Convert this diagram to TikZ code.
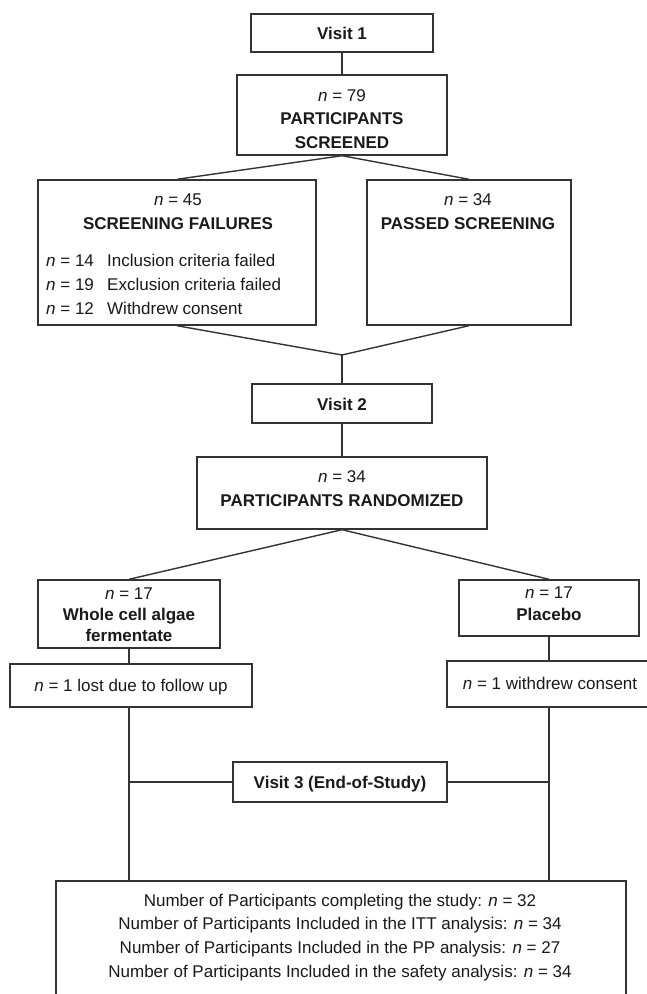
\documentclass[tikz,border=0pt]{standalone}
\usepackage{fontspec}
\setmainfont{Liberation Sans}
\usetikzlibrary{calc}
\definecolor{edge}{HTML}{333333}
\definecolor{ink}{HTML}{1A1A1A}
\tikzset{
  box/.style={draw=edge, line width=1.4bp, fill=white, inner sep=0pt},
  conn/.style={draw=edge, line width=1.4bp},
  lbl/.style={anchor=base, inner sep=0pt, text=ink, font=\fontsize{17bp}{24bp}\selectfont},
  head/.style={lbl, font=\fontsize{17bp}{24bp}\selectfont\bfseries},
  lft/.style={lbl, anchor=base west},
}
\begin{document}
\begin{tikzpicture}[x=1bp, y=-1bp]
\useasboundingbox (0,0) rectangle (647,994);
\clip (0,0) rectangle (647,994);
\fill[white] (0,0) rectangle (647,994);

% boxes
\node[box, minimum width=182bp, minimum height=38bp]  (v1)    at (342,33)     {};
\node[box, minimum width=210bp, minimum height=80bp]  (scr)   at (342,115)    {};
\node[box, minimum width=278bp, minimum height=145bp] (fail)  at (177,252.5)  {};
\node[box, minimum width=204bp, minimum height=145bp] (pass)  at (469,252.5)  {};
\node[box, minimum width=180bp, minimum height=39bp]  (v2)    at (342,403.5)  {};
\node[box, minimum width=290bp, minimum height=72bp]  (rand)  at (342,493)    {};
\node[box, minimum width=182bp, minimum height=68bp]  (whole) at (129,614)    {};
\node[box, minimum width=242bp, minimum height=43bp]  (lost)  at (131,685.5)  {};
\node[box, minimum width=180bp, minimum height=56bp]  (plac)  at (549,608)    {};
\node[box, minimum width=206bp, minimum height=46bp]  (wd)    at (550,684)    {};
\node[box, minimum width=214bp, minimum height=40bp]  (v3)    at (340,782)    {};
\node[box, minimum width=570bp, minimum height=129bp] (fin)   at (341,945.5)  {};

\coordinate (merge) at (342,355);

% connectors
\draw[conn] (v1.south) -- (scr.north);
\draw[conn] (scr.south) -- (fail.north);
\draw[conn] (scr.south) -- (pass.north);
\draw[conn] (fail.south) -- (merge);
\draw[conn] (pass.south) -- (merge);
\draw[conn] (merge) -- (v2.north);
\draw[conn] (v2.south) -- (rand.north);
\draw[conn] (rand.south) -- (whole.north);
\draw[conn] (rand.south) -- (plac.north);
\draw[conn] (whole.south) -- (whole.south |- lost.north);
\draw[conn] (plac.south) -- (plac.south |- wd.north);
\draw[conn] (whole.south |- lost.south) -- (whole.south |- fin.north);
\draw[conn] (plac.south |- wd.south) -- (plac.south |- fin.north);
\draw[conn] (v3.west) -- (whole.south |- v3.west);
\draw[conn] (v3.east) -- (plac.south |- v3.east);

% texts
\node[head] (t-v1) at (342,39) {Visit 1};

\node[lbl]  (t-scr1) at (342,101) {\textit{n} = 79};
\node[head] (t-scr2) at (342,124) {PARTICIPANTS};
\node[head] (t-scr3) at (342,148) {SCREENED};

\node[lbl]  (t-fail1) at (178,205) {\textit{n} = 45};
\node[head] (t-fail2) at (178,229) {SCREENING FAILURES};
\node[lft]  (t-f14n) at (46,266) {\textit{n} = 14};
\node[lft]  (t-f14)  at (107,266) {Inclusion criteria failed};
\node[lft]  (t-f19n) at (46,290) {\textit{n} = 19};
\node[lft]  (t-f19)  at (107,290) {Exclusion criteria failed};
\node[lft]  (t-f12n) at (46,314) {\textit{n} = 12};
\node[lft]  (t-f12)  at (107,314) {Withdrew consent};

\node[lbl]  (t-pass1) at (468,205) {\textit{n} = 34};
\node[head] (t-pass2) at (468,229) {PASSED SCREENING};

\node[head] (t-v2) at (342,410) {Visit 2};

\node[lbl]  (t-rand1) at (342,482) {\textit{n} = 34};
\node[head] (t-rand2) at (342,506) {PARTICIPANTS RANDOMIZED};

\node[lbl]  (t-wh1) at (129,599) {\textit{n} = 17};
\node[head] (t-wh2) at (129,620) {Whole cell algae};
\node[head] (t-wh3) at (129,641) {fermentate};

\node[lbl]  (t-lost) at (131,691) {\textit{n} = 1 lost due to follow up};

\node[lbl]  (t-pl1) at (549,598) {\textit{n} = 17};
\node[head] (t-pl2) at (549,620) {Placebo};

\node[lbl]  (t-wd) at (550,689) {\textit{n} = 1 withdrew consent};

\node[head] (t-v3) at (340,788) {Visit 3 (End-of-Study)};

\node[lbl] (t-fin1) at (340,906) {Number of Participants completing the study: \textit{n} = 32};
\node[lbl] (t-fin2) at (340,929) {Number of Participants Included in the ITT analysis: \textit{n} = 34};
\node[lbl] (t-fin3) at (340,953) {Number of Participants Included in the PP analysis: \textit{n} = 27};
\node[lbl] (t-fin4) at (340,977) {Number of Participants Included in the safety analysis: \textit{n} = 34};
\end{tikzpicture}
\end{document}
